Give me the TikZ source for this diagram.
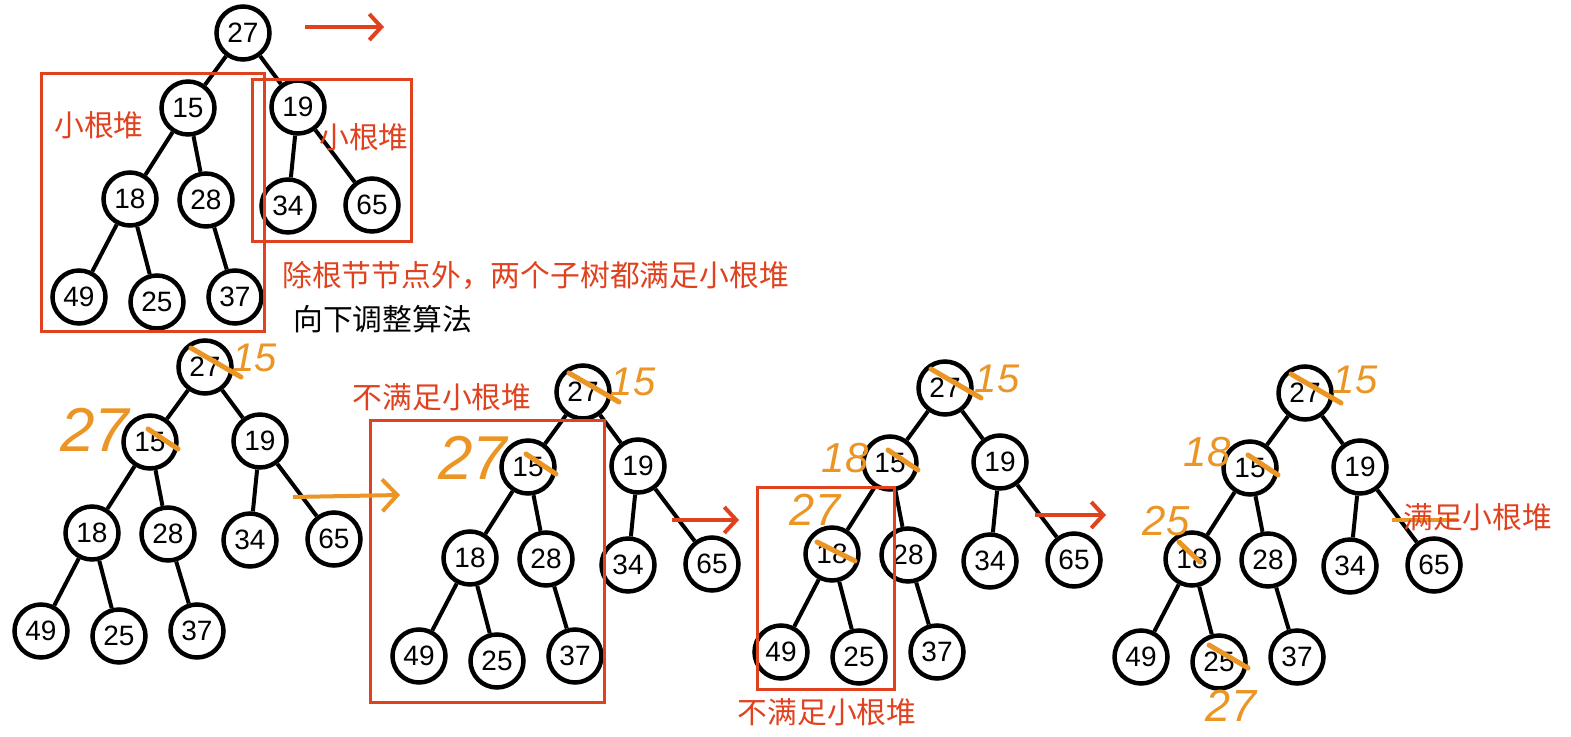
\documentclass[tikz,border=0pt]{standalone}
\usepackage{fontspec}
\setmainfont{Liberation Sans}
\newfontfamily\cjk{Noto Sans CJK SC}
\usetikzlibrary{arrows.meta}
\definecolor{redink}{HTML}{E0411E}
\definecolor{orangeink}{HTML}{EB9525}
\begin{document}
\begin{tikzpicture}[x=1pt,y=-1pt,
	heap/.style={circle,draw,line width=4.5pt,minimum size=53pt,inner sep=0pt,font=\fontsize{28}{28}\selectfont},
	link/.style={line width=4pt},
	redbox/.style={draw=redink,line width=3pt},
	redtag/.style={text=redink,inner sep=0pt,font=\cjk\fontsize{29.8}{30}\selectfont},
	handnum/.style={text=orangeink,inner sep=0pt,font=\itshape\fontsize{#1}{#1}\selectfont},
	strike/.style={orangeink,line width=5pt,line cap=round},
	redarrow/.style={redink,line width=4pt,-{Straight Barb[length=12pt,width=26pt]}}]
		\useasboundingbox (0,0) rectangle (1571,736);
		\foreach \t/\rx/\ry in {a/243/33, b/205/367, c/583/392, d/945/388, e/1305/393}{
			\node[heap] (\t27) at (\rx,\ry) {27};
			\foreach \v/\dx/\dy in {15/-55/75, 19/55/74, 18/-113/166, 28/-37/167, 34/45/173, 65/129/172, 49/-164/264, 25/-86/269, 37/-8/264}{
				\node[heap] (\t\v) at ({\rx+\dx},{\ry+\dy}) {\v};
			}
			\foreach \p/\c in {27/15, 27/19, 15/18, 15/28, 19/34, 19/65, 18/49, 18/25, 28/37}{
				\draw[link] (\t\p) -- (\t\c);
			}
		}
		
		\draw[redbox] (41,73) rectangle (264,331);
		\draw[redbox] (252,79) rectangle (411,241);
		\draw[redbox] (370,420) rectangle (604,702);
		\draw[redbox] (757,487) rectangle (894,689);
		
		\node[redtag] (heapl) at (99,125) {小根堆};
		\node[redtag] (heapr) at (364,137) {小根堆};
		\node[redtag,anchor=west] (cond) at (282,275) {除根节节点外，两个子树都满足小根堆};
		\node[redtag,text=black,anchor=west] (algo) at (293,319) {向下调整算法};
		\node[redtag] (failc) at (442,397) {不满足小根堆};
		\node[redtag] (faild) at (827,712) {不满足小根堆};
		\draw[orangeink,line width=4pt] (1392,520) -- (1458,520);
		\node[redtag,anchor=west] (okay) at (1403,517) {满足小根堆};
		
		\coordinate (top0) at (305,27);
		\coordinate (top1) at (384,27);
		\coordinate (bc0) at (293,497);
		\coordinate (bc1) at (400,495);
		\coordinate (cd0) at (672,520);
		\coordinate (cd1) at (739,520);
		\coordinate (de0) at (1035,515);
		\coordinate (de1) at (1106,515);
		\draw[redarrow] (top0) -- (top1);
		\draw[orangeink,line width=4pt,-{Straight Barb[length=15pt,width=32pt]}] (bc0) -- (bc1);
		\draw[redarrow] (cd0) -- (cd1);
		\draw[redarrow] (de0) -- (de1);
		
		\foreach \t in {b,c,d,e}{
			\draw[strike] ([shift={(-14,-19)}]\t27.center) -- ([shift={(36,10)}]\t27.center);
			\draw[strike] ([shift={(-2,-13)}]\t15.center) -- ([shift={(28,7)}]\t15.center);
		}
		\draw[strike] ([shift={(-15,-12)}]d18.center) -- ([shift={(23,7)}]d18.center);
		\draw[strike] ([shift={(-13,-17)}]e18.center) -- ([shift={(8,3)}]e18.center);
		\draw[strike] ([shift={(-10,-17)}]e25.center) -- ([shift={(29,6)}]e25.center);
		
		\node[handnum=40] (b15) at (255,358) {15};
		\node[handnum=62] (b27n) at (95,430) {27};
		\node[handnum=40] (c15) at (633,382) {15};
		\node[handnum=62] (c27n) at (473,458) {27};
		\node[handnum=40] (d15) at (997,379) {15};
		\node[handnum=42] (d18n) at (845,458) {18};
		\node[handnum=45] (d27n) at (815,510) {27};
		\node[handnum=40] (e15) at (1355,380) {15};
		\node[handnum=42] (e18n) at (1207,452) {18};
		\node[handnum=42] (e25n) at (1166,521) {25};
		\node[handnum=45] (e27n) at (1231,706) {27};
\end{tikzpicture}
\end{document}
